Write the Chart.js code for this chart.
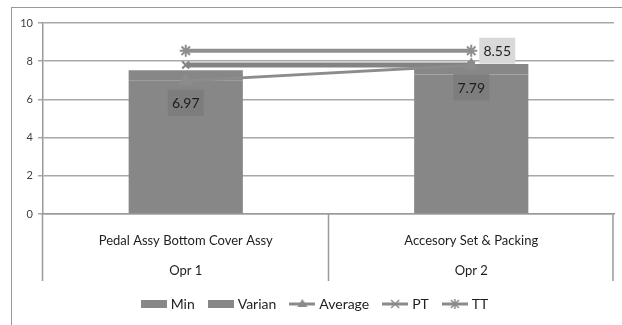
<!DOCTYPE html>
<html>
<head>
<meta charset="utf-8">
<script src="https://cdn.jsdelivr.net/npm/chart.js@4.4.0/dist/chart.umd.min.js"></script>
<style>
  html, body { margin: 0; padding: 0; background: #fff; }
  #wrap { width: 622px; height: 325px; }
</style>
</head>
<body>
<div id="wrap"><canvas id="grafico"></canvas></div>
<script>
// datos del grafico
var categorias = [['Pedal Assy Bottom Cover Assy', '', 'Opr 1'], ['Accesory Set & Packing', '', 'Opr 2']];
var minVals = [7.0, 7.3];
var varianVals = [0.53, 0.55];
var averageVals = [6.97, 7.79];
var ptVals = [7.8, 7.8];
var ttVals = [8.55, 8.55];
var yTicks = [0, 2, 4, 6, 8, 10];

var fuente = 'Lato, "Open Sans", sans-serif';
var gris = '#878787';

// iconos de la leyenda (caja o linea con marcador)
function icono(tipo, color) {
  var c = document.createElement('canvas');
  c.width = 26; c.height = 14;
  var g = c.getContext('2d');
  g.fillStyle = color; g.strokeStyle = color;
  if (tipo == 'box') {
    g.fillRect(0, 3, 26, 8);
    return c;
  }
  g.lineWidth = 3;
  g.beginPath(); g.moveTo(0, 7); g.lineTo(26, 7); g.stroke();
  g.lineWidth = 1.5;
  if (tipo == 'triangle') {
    g.beginPath(); g.moveTo(13, 2); g.lineTo(18, 10); g.lineTo(8, 10); g.closePath(); g.fill();
  } else if (tipo == 'cross') {
    g.beginPath(); g.moveTo(9, 3); g.lineTo(17, 11); g.moveTo(17, 3); g.lineTo(9, 11); g.stroke();
  } else {
    g.beginPath(); g.moveTo(9, 3); g.lineTo(17, 11); g.moveTo(17, 3); g.lineTo(9, 11);
    g.moveTo(13, 2); g.lineTo(13, 12); g.stroke();
  }
  return c;
}

// separadores de categorias, marco y etiquetas de datos
var extras = {
  id: 'extras',
  beforeDraw: function(chart) {
    var ctx = chart.ctx;
    ctx.save();
    ctx.strokeStyle = '#9a9a9a';
    ctx.lineWidth = 1;
    ctx.strokeRect(11.5, 7.5, 700, 400);
    ctx.restore();
  },
  afterDraw: function(chart) {
    var ctx = chart.ctx;
    var x = chart.scales.x;
    var area = chart.chartArea;
    var n = categorias.length;
    ctx.save();
    ctx.strokeStyle = '#9a9a9a';
    ctx.lineWidth = 1.5;
    for (var i = 0; i <= n; i++) {
      var px = Math.round(x.left + i * (x.width / n)) - 0.5;
      if (i == n) px = x.right - 1;
      ctx.beginPath();
      ctx.moveTo(px, area.bottom);
      ctx.lineTo(px, area.bottom + 67);
      ctx.stroke();
    }
    ctx.restore();
  },
  afterDatasetsDraw: function(chart) {
    var ctx = chart.ctx;
    ctx.save();
    ctx.font = '14px ' + fuente;
    ctx.textAlign = 'center';
    ctx.textBaseline = 'middle';
    // Average: debajo del punto
    var avg = chart.getDatasetMeta(2);
    avg.data.forEach(function(p, i) {
      var t = averageVals[i].toFixed(2);
      var cy = p.y + 22;
      ctx.fillStyle = '#7d7d7d';
      ctx.fillRect(p.x - 18, cy - 13, 36, 26);
      ctx.fillStyle = '#1e1e1e';
      ctx.fillText(t, p.x, cy + 1);
    });
    // TT: solo el ultimo punto, a la derecha
    var tt = chart.getDatasetMeta(4);
    var last = tt.data[tt.data.length - 1];
    var cx = last.x + 26;
    ctx.fillStyle = '#d9d9d9';
    ctx.fillRect(cx - 18, last.y - 13, 36, 26);
    ctx.fillStyle = '#1e1e1e';
    ctx.fillText(ttVals[ttVals.length - 1].toFixed(2), cx, last.y + 1);
    ctx.restore();
  }
};

var iconos = [icono('box', gris), icono('box', gris), icono('triangle', '#8a8a8a'), icono('cross', '#8a8a8a'), icono('star', '#8a8a8a')];

new Chart(document.getElementById('grafico').getContext('2d'), {
  type: 'bar',
  data: {
    labels: categorias,
    datasets: [
      { label: 'Min', data: minVals, backgroundColor: gris, stack: 'barras', order: 2,
        categoryPercentage: 1, barPercentage: 0.4 },
      { label: 'Varian', data: varianVals, backgroundColor: gris, stack: 'barras', order: 2,
        categoryPercentage: 1, barPercentage: 0.4 },
      { type: 'line', label: 'Average', data: averageVals, stack: 'avg', order: 1,
        borderColor: '#8c8c8c', backgroundColor: '#8c8c8c', borderWidth: 3,
        pointStyle: 'triangle', pointRadius: 5 },
      { type: 'line', label: 'PT', data: ptVals, stack: 'pt', order: 1,
        borderColor: '#838383', backgroundColor: '#838383', borderWidth: 5,
        pointStyle: 'crossRot', pointRadius: 5, pointBorderWidth: 2 },
      { type: 'line', label: 'TT', data: ttVals, stack: 'tt', order: 1,
        borderColor: '#8f8f8f', backgroundColor: '#8f8f8f', borderWidth: 4,
        pointStyle: 'star', pointRadius: 6, pointBorderWidth: 2 }
    ]
  },
  options: {
    responsive: true,
    maintainAspectRatio: false,
    animation: false,
    layout: { padding: { left: 11, right: 1, top: 23, bottom: 4 } },
    plugins: {
      tooltip: { enabled: false },
      legend: {
        position: 'bottom',
        labels: {
          usePointStyle: true,
          pointStyleWidth: 20,
          padding: 16,
          color: '#1e1e1e',
          font: { family: fuente, size: 14 },
          generateLabels: function(chart) {
            return chart.data.datasets.map(function(ds, i) {
              return { text: ds.label, pointStyle: iconos[i], datasetIndex: i,
                       fontColor: '#1e1e1e', lineWidth: 0, hidden: false };
            });
          }
        }
      }
    },
    scales: {
      x: {
        stacked: true,
        grid: { display: false },
        border: { display: true, color: '#9a9a9a', width: 1.5 },
        ticks: { color: '#1e1e1e', padding: 11, maxRotation: 0, autoSkip: false,
                 font: { family: fuente, size: 13, lineHeight: 1.15 } },
        afterFit: function(s) { s.height = 67; }
      },
      y: {
        stacked: true,
        min: 0, max: 10,
        afterBuildTicks: function(s) { s.ticks = yTicks.map(function(v) { return { value: v }; }); },
        grid: { color: '#a8a8a8', lineWidth: 1.5, tickLength: 5 },
        border: { display: true, color: '#9a9a9a', width: 1.5 },
        ticks: { color: '#404040', padding: 5, font: { family: fuente, size: 11 } },
        afterFit: function(s) { s.width = 32; }
      }
    }
  },
  plugins: [extras]
});
</script>
</body>
</html>
